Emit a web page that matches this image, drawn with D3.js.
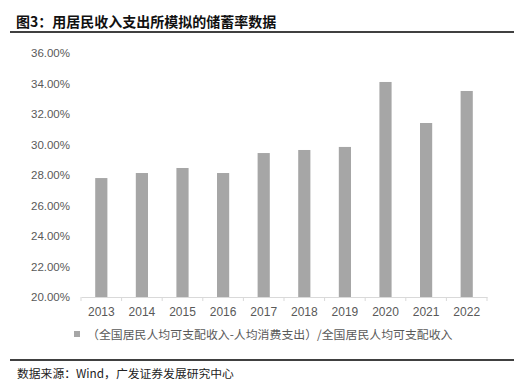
<!DOCTYPE html>
<html>
<head>
<meta charset="utf-8">
<script src="https://cdn.jsdelivr.net/npm/d3@7"></script>
<style>
  body { margin: 0; background: #fff; }
  svg { display: block; }
</style>
</head>
<body>
<div id="chart"></div>
<script>
const years = ["2013","2014","2015","2016","2017","2018","2019","2020","2021","2022"];
const savingRate = [27.80, 28.13, 28.46, 28.13, 29.44, 29.64, 29.84, 34.10, 31.41, 33.51];
const yTicks = [20, 22, 24, 26, 28, 30, 32, 34, 36];

const titleText = "图3：用居民收入支出所模拟的储蓄率数据";
const legendText = "（全国居民人均可支配收入-人均消费支出）/全国居民人均可支配收入";
const sourceText = "数据来源：Wind，广发证券发展研究中心";

const W = 514, H = 387;
const plot = {left: 81, right: 487, top: 53, bottom: 297};

const svg = d3.select("#chart")
  .append("svg")
  .attr("width", W)
  .attr("height", H);

const cjk = "'Noto Sans CJK SC', 'Noto Sans', sans-serif";
const latin = "'Liberation Sans', Arial, sans-serif";

// title + rule
svg.append("text")
  .attr("x", 16).attr("y", 27)
  .attr("font-family", cjk)
  .attr("font-size", "14px")
  .attr("font-weight", "bold")
  .attr("fill", "#111")
  .text(titleText);

svg.append("line")
  .attr("x1", 10).attr("x2", W)
  .attr("y1", 32).attr("y2", 32)
  .attr("stroke", "#000").attr("stroke-width", 1.5);

const x = d3.scaleBand().domain(years).range([plot.left, plot.right]).paddingInner(0.7).paddingOuter(0.35);
const y = d3.scaleLinear().domain([20, 36]).range([plot.bottom, plot.top]);

// bars
svg.selectAll(".bar")
  .data(years)
  .enter()
  .append("rect")
  .attr("class", "bar")
  .attr("x", d => x(d))
  .attr("y", (d, i) => y(savingRate[i]))
  .attr("width", x.bandwidth())
  .attr("height", (d, i) => y(20) - y(savingRate[i]))
  .attr("fill", "#a6a6a6");

// y axis labels
const yAxis = svg.append("g")
  .attr("transform", `translate(${plot.left},0)`)
  .call(d3.axisLeft(y).tickValues(yTicks).tickSize(0).tickPadding(11).tickFormat(d => d.toFixed(2) + "%"));
yAxis.select(".domain").remove();
yAxis.selectAll("text")
  .attr("font-family", latin)
  .attr("font-size", "11.5px")
  .attr("fill", "#595959");

// x axis, ticks at band edges
const xAxis = svg.append("g")
  .attr("transform", `translate(0,${plot.bottom})`)
  .call(d3.axisBottom(x).tickSize(0).tickPadding(10));
xAxis.select(".domain").attr("stroke", "#d9d9d9");
xAxis.selectAll("text")
  .attr("font-family", latin)
  .attr("font-size", "12px")
  .attr("fill", "#595959");

const step = x.step();
const edges = d3.range(years.length + 1).map(i => plot.left + i * step);
xAxis.selectAll(".edge")
  .data(edges)
  .enter()
  .append("line")
  .attr("x1", d => d).attr("x2", d => d)
  .attr("y1", 0).attr("y2", 4)
  .attr("stroke", "#d9d9d9");

// legend
svg.append("rect")
  .attr("x", 74).attr("y", 331)
  .attr("width", 6).attr("height", 6)
  .attr("fill", "#a6a6a6");
svg.append("text")
  .attr("x", 87).attr("y", 339)
  .attr("font-family", cjk)
  .attr("font-size", "11.9px")
  .attr("fill", "#595959")
  .text(legendText);

// source + rule
svg.append("line")
  .attr("x1", 10).attr("x2", W)
  .attr("y1", 360).attr("y2", 360)
  .attr("stroke", "#000").attr("stroke-width", 1.5);

svg.append("text")
  .attr("x", 17).attr("y", 377.5)
  .attr("font-family", cjk)
  .attr("font-size", "11.8px")
  .attr("fill", "#222")
  .text(sourceText);
</script>
</body>
</html>
